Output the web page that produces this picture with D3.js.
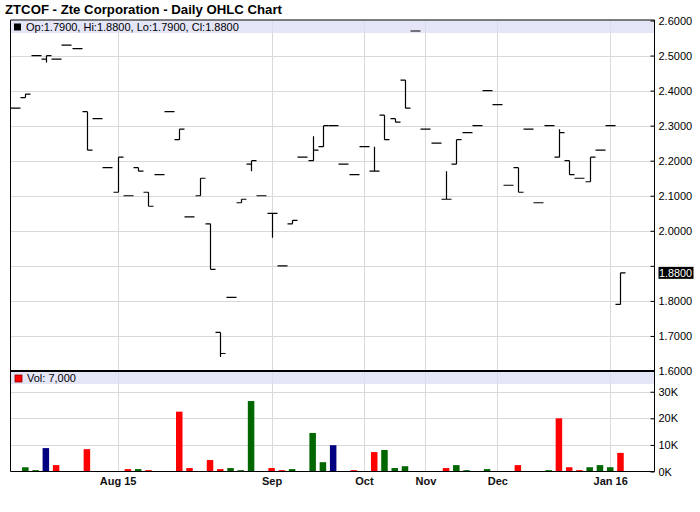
<!DOCTYPE html>
<html>
<head>
<meta charset="utf-8">
<script src="https://cdn.jsdelivr.net/npm/d3@7"></script>
<style>
  html, body { margin: 0; padding: 0; background: #ffffff; }
  svg { display: block; font-family: "Liberation Sans", Arial, Helvetica, sans-serif; }
</style>
</head>
<body>
<svg id="chart" width="700" height="512"></svg>
<script>
// ---------------- data ----------------
const opens  = [2.35,2.38,2.50,2.49,2.49,2.53,2.52,2.34,2.32,2.18,2.11,2.10,2.18,2.11,2.16,2.34,2.26,2.04,2.10,2.02,
                1.71,1.81,2.08,2.19,2.10,2.05,1.90,2.02,2.21,2.20,2.24,2.30,2.19,2.16,2.24,2.17,2.33,2.32,2.43,2.57,
                2.29,2.25,2.09,2.19,2.28,2.30,2.40,2.36,2.13,2.18,2.29,2.08,2.30,2.21,2.20,2.15,2.14,2.23,2.30,1.79];
const highs  = [2.35,2.39,2.50,2.50,2.49,2.53,2.52,2.34,2.32,2.18,2.21,2.10,2.18,2.11,2.16,2.34,2.29,2.04,2.15,2.02,
                1.71,1.81,2.09,2.20,2.10,2.05,1.90,2.03,2.21,2.27,2.30,2.30,2.19,2.16,2.24,2.24,2.33,2.32,2.43,2.57,
                2.29,2.25,2.17,2.26,2.28,2.30,2.40,2.36,2.13,2.18,2.29,2.08,2.30,2.29,2.20,2.15,2.21,2.23,2.30,1.88];
const lows   = [2.35,2.38,2.50,2.48,2.49,2.53,2.52,2.23,2.32,2.18,2.11,2.10,2.17,2.07,2.16,2.34,2.26,2.04,2.10,1.89,
                1.64,1.81,2.08,2.17,2.10,1.98,1.90,2.02,2.21,2.20,2.24,2.30,2.19,2.16,2.24,2.17,2.26,2.31,2.35,2.57,
                2.29,2.25,2.09,2.19,2.28,2.30,2.40,2.36,2.13,2.11,2.29,2.08,2.30,2.21,2.16,2.15,2.14,2.23,2.30,1.79];
const closes = [2.35,2.39,2.50,2.50,2.49,2.53,2.52,2.23,2.32,2.18,2.21,2.10,2.17,2.07,2.16,2.34,2.29,2.04,2.15,1.89,
                1.65,1.81,2.09,2.20,2.10,2.05,1.90,2.03,2.21,2.23,2.30,2.30,2.19,2.16,2.24,2.17,2.26,2.31,2.35,2.57,
                2.29,2.25,2.09,2.26,2.28,2.30,2.40,2.36,2.13,2.11,2.29,2.08,2.30,2.28,2.16,2.15,2.21,2.23,2.30,1.88];
const volumes = [100,1600,500,8800,2400,100,100,8400,100,100,100,900,900,500,100,100,22500,1300,100,4300,
                 900,1300,500,26500,100,1300,500,900,100,14500,3500,9900,100,500,100,7300,8100,1300,2000,100,
                 100,100,1300,2400,500,100,900,100,100,2400,100,100,500,20000,1600,500,1600,2400,1600,7000];
const monthLabels  = ["Aug 15","Sep","Oct","Nov","Dec","Jan 16"];
const monthIndexes = [10,25,34,40,47,58];
const priceTicks   = [1.6,1.7,1.8,1.9,2.0,2.1,2.2,2.3,2.4,2.5,2.6];
const volumeTicks  = [0,10000,20000,30000];
const titleText = "ZTCOF - Zte Corporation - Daily OHLC Chart";

// ---------------- layout ----------------
const L = 10.5, R = 654.5, T = 20.5, PB = 371, VB = 471.5;
const svg = d3.select("#chart");
const n = closes.length;

const x = d3.scaleLinear().domain([-0.44, 62.32]).range([L, R]);
const y = d3.scaleLinear().domain([1.6, 2.6]).range([PB, T]);
const yv = d3.scaleLinear().domain([0, 37800]).range([VB, PB]);

const grid = "#d9d9d9";

// title
svg.append("text").attr("x", 5).attr("y", 14)
  .attr("font-size", 13.2).attr("font-weight", "bold").attr("fill", "#000")
  .text(titleText);

// grids
const g = svg.append("g");
g.selectAll("line.hp").data(priceTicks.filter(t => t > 1.6 && t < 2.6)).join("line")
  .attr("x1", L).attr("x2", R)
  .attr("y1", d => Math.round(y(d)) + 0.5).attr("y2", d => Math.round(y(d)) + 0.5)
  .attr("stroke", grid).attr("stroke-width", 1);
g.selectAll("line.hv").data(volumeTicks.filter(t => t > 0)).join("line")
  .attr("x1", L).attr("x2", R)
  .attr("y1", d => Math.round(yv(d)) + 0.5).attr("y2", d => Math.round(yv(d)) + 0.5)
  .attr("stroke", grid).attr("stroke-width", 1);
g.selectAll("line.vg").data(monthIndexes).join("line")
  .attr("x1", d => Math.round(x(d)) + 0.5).attr("x2", d => Math.round(x(d)) + 0.5)
  .attr("y1", T).attr("y2", VB)
  .attr("stroke", grid).attr("stroke-width", 1);

// legend bands
svg.append("rect").attr("x", L).attr("y", T).attr("width", R - L).attr("height", 12.5)
  .attr("fill", "#dcdcf6").attr("opacity", 0.75);
svg.append("rect").attr("x", L).attr("y", PB + 1).attr("width", R - L).attr("height", 12)
  .attr("fill", "#dcdcf6").attr("opacity", 0.75);

// OHLC bars
const bars = svg.append("g").attr("stroke", "#000").attr("stroke-width", 1.2).attr("fill", "none");
const idx = d3.range(n);
const px = i => Math.round(x(i)) + 0.5;
bars.selectAll("path").data(idx).join("path")
  .attr("d", i => {
    const cx = px(i);
    const yo = y(opens[i]), yc = y(closes[i]), yh = y(highs[i]), yl = y(lows[i]);
    let d = `M${cx - 5},${yo}H${cx}M${cx},${yc}H${cx + 5}`;
    if (Math.abs(yh - yl) > 0.5) d += `M${cx},${yh}V${yl}`;
    return d;
  });

// volume bars
const colorFor = i => {
  if (i === 0) return "#ff0000";
  if (closes[i] > closes[i - 1]) return "#006600";
  if (closes[i] < closes[i - 1]) return "#ff0000";
  return "#000080";
};
svg.append("g").selectAll("rect").data(idx).join("rect")
  .attr("x", i => x(i) - 3.2).attr("width", 6.5)
  .attr("y", i => yv(volumes[i])).attr("height", i => VB - yv(volumes[i]))
  .attr("fill", colorFor);

// frame
svg.append("line").attr("x1", L).attr("x2", L).attr("y1", T - 0.5).attr("y2", VB).attr("stroke", "#000");
svg.append("line").attr("x1", L).attr("x2", R).attr("y1", T - 0.5).attr("y2", T - 0.5).attr("stroke", "#000");
svg.append("line").attr("x1", L).attr("x2", R).attr("y1", PB).attr("y2", PB).attr("stroke", "#000").attr("stroke-width", 2);
svg.append("line").attr("x1", L).attr("x2", R).attr("y1", VB).attr("y2", VB).attr("stroke", "#000");

// price axis (right)
const lastClose = closes[n - 1];
const pAxis = d3.axisRight(y).tickValues(priceTicks).tickSizeInner(-4).tickSizeOuter(0).tickPadding(4)
  .tickFormat(d => Math.abs(d - lastClose) < 0.06 ? "" : d3.format(".4f")(d));
const pg = svg.append("g").attr("transform", `translate(${R},0)`).call(pAxis);
pg.select(".domain").remove();
pg.selectAll("text").attr("font-size", 11).attr("font-family", "Liberation Sans, Arial, sans-serif").attr("fill", "#000");
pg.selectAll("line").attr("stroke", "#000");

const vAxis = d3.axisRight(yv).tickValues(volumeTicks).tickSizeInner(-4).tickSizeOuter(0).tickPadding(4)
  .tickFormat(d => (d / 1000) + "K");
const vg = svg.append("g").attr("transform", `translate(${R},0)`).call(vAxis);
vg.select(".domain").remove();
vg.selectAll("text").attr("font-size", 11).attr("font-family", "Liberation Sans, Arial, sans-serif").attr("fill", "#000");
vg.selectAll("line").attr("stroke", "#000");

svg.append("line").attr("x1", R).attr("x2", R).attr("y1", T - 0.5).attr("y2", VB).attr("stroke", "#000");

// last price label
const ly = y(lastClose);
svg.append("rect").attr("x", R + 4).attr("y", ly - 6).attr("width", 35).attr("height", 12).attr("fill", "#000");
svg.append("text").attr("x", R + 4.5).attr("y", ly + 4).attr("font-size", 10.8).attr("fill", "#fff")
  .text(d3.format(".4f")(lastClose));

// bottom axis
const xAxis = d3.axisBottom(x).tickValues(monthIndexes).tickSize(0).tickPadding(6)
  .tickFormat((d, i) => monthLabels[i]);
const xg = svg.append("g").attr("transform", `translate(0,${VB})`).call(xAxis);
xg.select(".domain").remove();
xg.selectAll("text").attr("font-size", 11).attr("font-weight", "bold")
  .attr("font-family", "Liberation Sans, Arial, sans-serif").attr("fill", "#111");

// legends
const fmt4 = d3.format(".4f");
svg.append("rect").attr("x", 14).attr("y", T + 3).attr("width", 7).attr("height", 7).attr("fill", "#000");
svg.append("text").attr("x", 26).attr("y", T + 10.5).attr("font-size", 11).attr("fill", "#000")
  .text(`Op:${fmt4(opens[n-1])}, Hi:${fmt4(highs[n-1])}, Lo:${fmt4(lows[n-1])}, Cl:${fmt4(closes[n-1])}`);
svg.append("rect").attr("x", 15).attr("y", PB + 4).attr("width", 7).attr("height", 7)
  .attr("fill", "#ff0000").attr("stroke", "#800").attr("stroke-width", 0.8);
svg.append("text").attr("x", 27).attr("y", PB + 11).attr("font-size", 11).attr("fill", "#000")
  .text(`Vol: ${d3.format(",")(volumes[n-1])}`);
</script>
</body>
</html>
